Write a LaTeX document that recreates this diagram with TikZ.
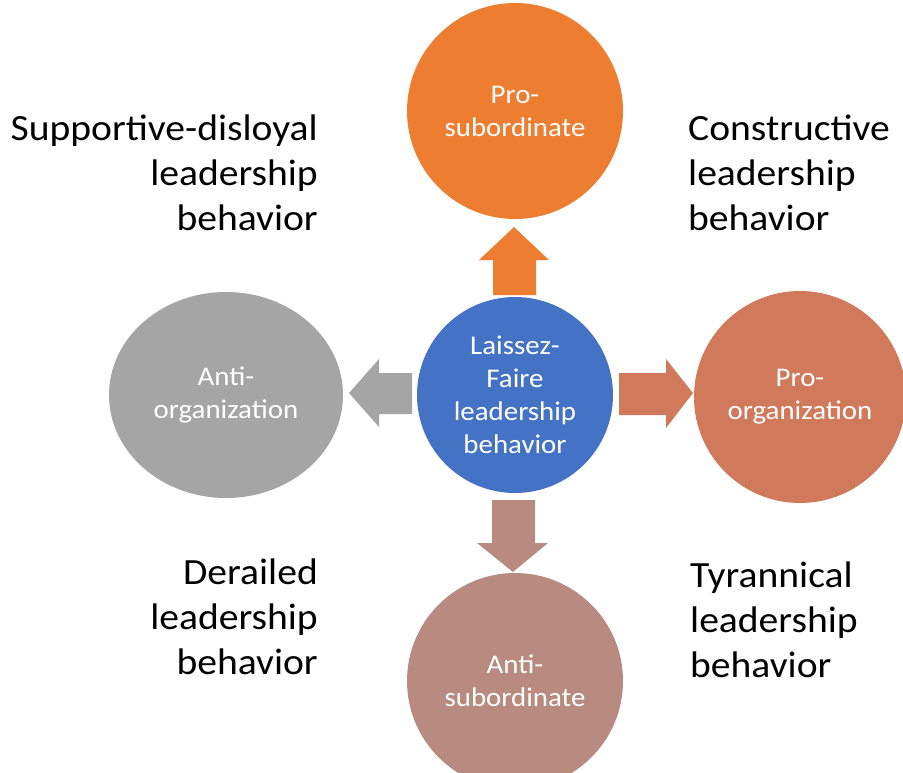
\documentclass[tikz,border=0pt]{standalone}
\usepackage{fontspec}
\setmainfont{Carlito}[FakeStretch=1.07]
\usetikzlibrary{shapes.geometric}
\definecolor{corange}{HTML}{ED7D31}
\definecolor{cblue}{HTML}{4472C4}
\definecolor{cgray}{HTML}{A5A5A5}
\definecolor{cright}{HTML}{D07A5B}
\definecolor{cbottom}{HTML}{B98A80}
\tikzset{
  bubble/.style={circle, inner sep=0pt, text=white, align=center, font=\fontsize{27}{33}\selectfont},
  lbl/.style={inner sep=0pt, text=black, font=\fontsize{37}{45}\selectfont},
}
\begin{document}
\begin{tikzpicture}[x=1pt,y=-1pt]
\useasboundingbox (0,0) rectangle (903,773);
\clip (0,0) rectangle (903,773);
% circles
\node[bubble, fill=corange, minimum size=216pt] (top) at (515,111) {Pro-\\subordinate};
\node[bubble, fill=cblue, minimum size=196pt] (ctr) at (515,395) {Laissez-\\Faire\\leadership\\behavior};
\node[bubble, fill=cright, minimum size=212pt] (rgt) at (800,397) {Pro-\\organization};
\node[bubble, ellipse, fill=cgray, minimum width=234pt, minimum height=206pt] (lft) at (226,395) {Anti-\\organization};
\node[bubble, fill=cbottom, minimum size=216pt] (bot) at (515,681) {Anti-\\subordinate};
% block arrows
\fill[corange] (493,295) -- (493,260) -- (479,260) -- (514,227) -- (549,260) -- (536,260) -- (536,295) -- cycle;
\fill[cright] (619,373) -- (666,373) -- (666,359) -- (693,393) -- (666,428) -- (666,415) -- (619,415) -- cycle;
\fill[cgray] (412,373) -- (379,373) -- (379,359) -- (349,393) -- (379,427) -- (379,414) -- (412,414) -- cycle;
\fill[cbottom] (492,500) -- (492,543) -- (477,543) -- (513,572) -- (548,543) -- (535,543) -- (535,500) -- cycle;
% labels
\node[lbl, anchor=east, align=right] (tl) at (318,173) {Supportive-disloyal\\leadership\\behavior};
\node[lbl, anchor=west, align=left] (tr) at (688,173) {Constructive\\leadership\\behavior};
\node[lbl, anchor=east, align=right] (bl) at (318,617) {Derailed\\leadership\\behavior};
\node[lbl, anchor=west, align=left] (br) at (690,620) {Tyrannical\\leadership\\behavior};
\end{tikzpicture}
\end{document}
